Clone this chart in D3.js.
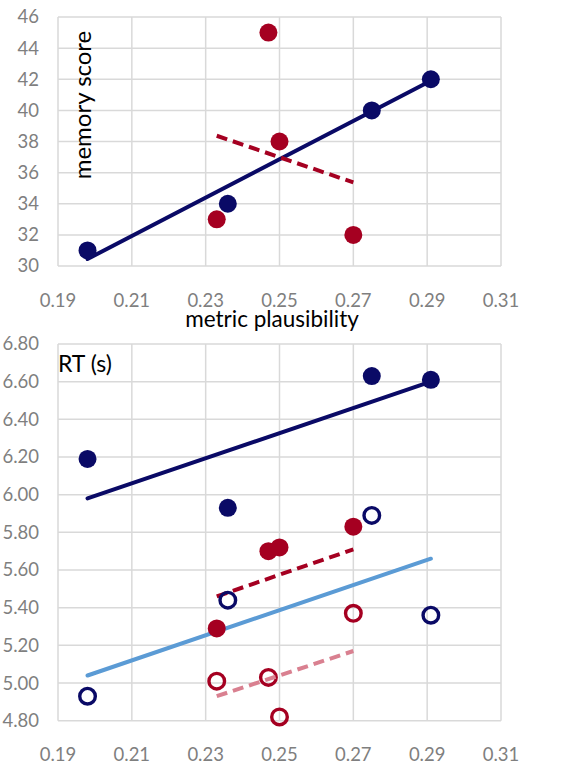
<!DOCTYPE html>
<html>
<head>
<meta charset="utf-8">
<script src="https://cdn.jsdelivr.net/npm/d3@7"></script>
<style>
  body { margin: 0; background: #fff; }
  svg { display: block; font-family: Lato, "Open Sans", sans-serif; }
</style>
</head>
<body>
<div id="chart"></div>
<script>
// x values (metric plausibility) per group
const xBlue = [0.198, 0.236, 0.275, 0.291];
const xRed = [0.233, 0.247, 0.25, 0.27];

// top panel: memory score
const memBlue = [31, 34, 40, 42];
const memRed = [33, 45, 38, 32];
const memBlueTrend = [[0.198, 30.45], [0.291, 41.9]];
const memRedTrend = [[0.233, 38.37], [0.27, 35.37]];

// bottom panel: RT (s)
const rtBlueFilled = [6.19, 5.93, 6.63, 6.61];
const rtRedFilled = [5.29, 5.70, 5.72, 5.83];
const rtBlueOpen = [4.93, 5.44, 5.89, 5.36];
const rtRedOpen = [5.01, 5.03, 4.82, 5.37];
const rtBlueFilledTrend = [[0.198, 5.98], [0.291, 6.60]];
const rtRedFilledTrend = [[0.233, 5.46], [0.27, 5.71]];
const rtBlueOpenTrend = [[0.198, 5.04], [0.291, 5.66]];
const rtRedOpenTrend = [[0.233, 4.93], [0.27, 5.17]];

const xTicks = [0.19, 0.21, 0.23, 0.25, 0.27, 0.29, 0.31];
const memTicks = [30, 32, 34, 36, 38, 40, 42, 44, 46];
const rtTicks = [4.8, 5.0, 5.2, 5.4, 5.6, 5.8, 6.0, 6.2, 6.4, 6.6, 6.8];

const NAVY = '#0a0a66';
const RED = '#a50021';
const LIGHTBLUE = '#5b9bd5';
const PINK = '#d98090';
const GRID = '#d9d9d9';
const TICK = '#7f7f7f';

const width = 562, height = 765;
const svg = d3.select('#chart').append('svg')
  .attr('width', width)
  .attr('height', height);

const x = d3.scaleLinear().domain([0.19, 0.31]).range([58, 501]);

function panel(yScale, yTicks, yFmt, xLabelY) {
  const g = svg.append('g');
  const [y0, y1] = yScale.range();

  g.selectAll('.vgrid')
    .data(xTicks)
    .enter().append('line')
    .attr('x1', d => x(d)).attr('x2', d => x(d))
    .attr('y1', y0).attr('y2', y1)
    .attr('stroke', GRID).attr('stroke-width', 1.5);

  g.selectAll('.hgrid')
    .data(yTicks)
    .enter().append('line')
    .attr('x1', x.range()[0]).attr('x2', x.range()[1])
    .attr('y1', d => yScale(d)).attr('y2', d => yScale(d))
    .attr('stroke', GRID).attr('stroke-width', 1.5);

  g.selectAll('.ytick')
    .data(yTicks)
    .enter().append('text')
    .attr('x', 39)
    .attr('y', d => yScale(d))
    .attr('dy', '0.35em')
    .attr('text-anchor', 'end')
    .attr('font-size', '18.5px')
    .attr('fill', TICK)
    .text(yFmt);

  g.selectAll('.xtick')
    .data(xTicks)
    .enter().append('text')
    .attr('x', d => x(d))
    .attr('y', xLabelY)
    .attr('dy', '0.35em')
    .attr('text-anchor', 'middle')
    .attr('font-size', '18.5px')
    .attr('fill', TICK)
    .text(d3.format('.2f'));

  return g;
}

function trend(g, yScale, pts, color, dashed) {
  const line = d3.line().x(d => x(d[0])).y(d => yScale(d[1]));
  g.append('path')
    .attr('d', line(pts))
    .attr('fill', 'none')
    .attr('stroke', color)
    .attr('stroke-width', 4)
    .attr('stroke-linecap', dashed ? 'butt' : 'round')
    .attr('stroke-dasharray', dashed ? '11,6' : null);
}

function dots(g, yScale, xs, ys, color, open) {
  g.selectAll(null)
    .data(xs.map((v, i) => [v, ys[i]]))
    .enter().append('circle')
    .attr('cx', d => x(d[0]))
    .attr('cy', d => yScale(d[1]))
    .attr('r', open ? 7.8 : 9)
    .attr('fill', open ? 'none' : color)
    .attr('stroke', open ? color : 'none')
    .attr('stroke-width', open ? 3.4 : 0);
}

// top panel
const yMem = d3.scaleLinear().domain([30, 46]).range([266, 17]);
const memPanel = panel(yMem, memTicks, d => d, 301);
trend(memPanel, yMem, memBlueTrend, NAVY, false);
trend(memPanel, yMem, memRedTrend, RED, true);
dots(memPanel, yMem, xBlue, memBlue, NAVY, false);
dots(memPanel, yMem, xRed, memRed, RED, false);

memPanel.append('text')
  .attr('transform', 'translate(83,105) rotate(-90)')
  .attr('text-anchor', 'middle')
  .attr('dy', '0.35em')
  .attr('font-size', '24px')
  .attr('fill', '#000')
  .text('memory score');

memPanel.append('text')
  .attr('x', 272)
  .attr('y', 327)
  .attr('text-anchor', 'middle')
  .attr('font-size', '22.5px')
  .attr('fill', '#000')
  .text('metric plausibility');

// bottom panel
const yRt = d3.scaleLinear().domain([4.8, 6.8]).range([720.7, 344]);
const rtPanel = panel(yRt, rtTicks, d3.format('.2f'), 755);
trend(rtPanel, yRt, rtBlueFilledTrend, NAVY, false);
trend(rtPanel, yRt, rtBlueOpenTrend, LIGHTBLUE, false);
trend(rtPanel, yRt, rtRedFilledTrend, RED, true);
dots(rtPanel, yRt, xBlue, rtBlueFilled, NAVY, false);
dots(rtPanel, yRt, xRed, rtRedFilled, RED, false);
dots(rtPanel, yRt, xBlue, rtBlueOpen, NAVY, true);
dots(rtPanel, yRt, xRed, rtRedOpen, RED, true);
trend(rtPanel, yRt, rtRedOpenTrend, PINK, true);

rtPanel.append('text')
  .attr('x', 58)
  .attr('y', 364)
  .attr('dy', '0.35em')
  .attr('font-size', '23px')
  .attr('fill', '#000')
  .text('RT (s)');
</script>
</body>
</html>
